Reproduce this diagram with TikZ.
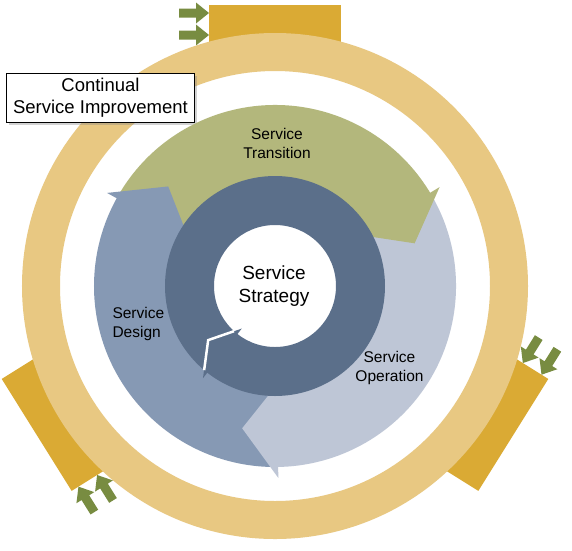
\documentclass[tikz,border=0pt]{standalone}
\usepackage{fontspec}
\setmainfont{Liberation Sans}
\usetikzlibrary{shadows}

\definecolor{ringgold}{HTML}{E8C882}
\definecolor{blockgold}{HTML}{DAAA34}
\definecolor{pushgreen}{HTML}{788C41}
\definecolor{transgreen}{HTML}{B3B77C}
\definecolor{operblue}{HTML}{BEC6D6}
\definecolor{desblue}{HTML}{8699B4}
\definecolor{stratblue}{HTML}{5B6F8A}

\begin{document}
\begin{tikzpicture}[x=1pt,y=1pt]
      \tikzstyle{phase}=[align=center,font=\fontsize{15.5}{19}\selectfont]
      \tikzstyle{core}=[align=center,font=\fontsize{19}{22.5}\selectfont]
      \tikzstyle{csibox}=[draw=black,line width=1pt,fill=white,align=center,
        minimum width=187,minimum height=49,inner sep=0pt,
        font=\fontsize{18.5}{22}\selectfont,
        drop shadow={shadow xshift=2.5pt,shadow yshift=-2.5pt,opacity=0.35}]

      \fill[white] (-275,-264) rectangle (297,286);
      \useasboundingbox (-275,-264) rectangle (297,286);

      % gold blocks behind the ring, two green push arrows each
      \foreach \rot in {0,122,-122}{
        \begin{scope}[rotate=\rot]
          \fill[blockgold] (-66,230) rectangle (66,281);
          \foreach \r in {251,273}
            \fill[pushgreen] (-96,\r-4.5) -- (-79,\r-4.5) -- (-79,\r-10.5) -- (-66,\r)
              -- (-79,\r+10.5) -- (-79,\r+4.5) -- (-96,\r+4.5) -- cycle;
        \end{scope}}

      % continual improvement ring
      \fill[ringgold,even odd rule] (0,0) circle (253) circle (215);
      \node[csibox](csi) at (-174.5,188.5) {Continual\\Service Improvement};

      % lifecycle wheel: bands first, heads on top
      \foreach \col/\b in {transgreen/31,operblue/-89,desblue/151}
        \fill[\col] ({\b+119}:181) arc[start angle=\b+119,end angle=\b-1,radius=181]
          -- ({\b-1}:104) arc[start angle=\b-1,end angle=\b+119,radius=104] -- cycle;
      \foreach \col/\b in {transgreen/31,operblue/-89,desblue/151}
        \fill[\col] (\b:192) -- ({\b-14}:146) -- (\b:99) -- cycle;

      % strategy ring with its own head
      \fill[stratblue,even odd rule] (0,0) circle (110) circle (61);
      \fill[stratblue] (232:117) -- (219:86) -- (232:54) -- cycle;
      \draw[white,line width=2.5pt] (227.8:61) -- (219:86) -- (229.9:110);

      \node[core](strategy) at (-1,0) {Service\\Strategy};
      \node[phase](transition) at (2,143) {Service\\Transition};
      \node[phase,align=left,anchor=west](design) at (-166,-37.5) {Service\\Design};
      \node[phase](operation) at (114.5,-81.5) {Service\\Operation};
\end{tikzpicture}
\end{document}
